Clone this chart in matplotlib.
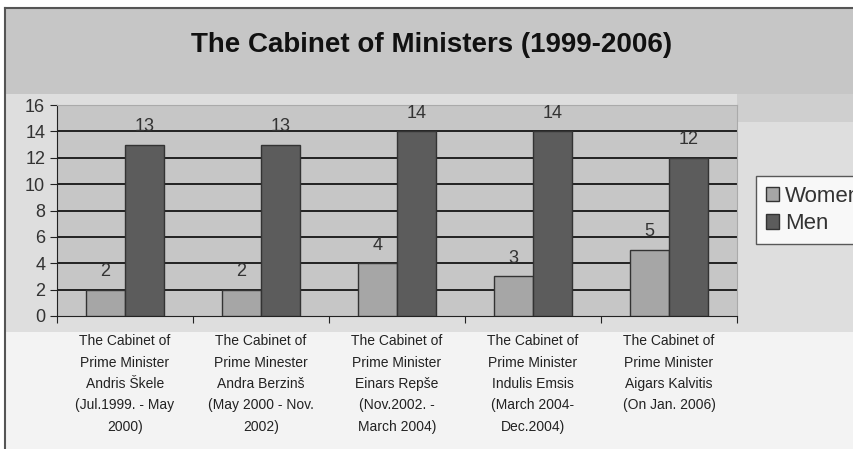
import numpy as np
import matplotlib.pyplot as plt
from matplotlib.patches import Rectangle
from matplotlib.lines import Line2D

plt.rcParams['font.family'] = ['Liberation Sans', 'DejaVu Sans']

# data
cabinets = [
    "The Cabinet of\nPrime Minister\nAndris Škele\n(Jul.1999. - May\n2000)",
    "The Cabinet of\nPrime Minester\nAndra Berzinš\n(May 2000 - Nov.\n2002)",
    "The Cabinet of\nPrime Minister\nEinars Repše\n(Nov.2002. -\nMarch 2004)",
    "The Cabinet of\nPrime Minister\nIndulis Emsis\n(March 2004-\nDec.2004)",
    "The Cabinet of\nPrime Minister\nAigars Kalvitis\n(On Jan. 2006)",
]
women = [2, 2, 4, 3, 5]
men = [13, 13, 14, 14, 12]
yticks = [0, 2, 4, 6, 8, 10, 12, 14, 16]

W, H = 854, 449
fig = plt.figure(figsize=(W / 100, H / 100), dpi=100)
fig.patch.set_facecolor('white')

# background panels of the original screenshot
def frect(x0, y0, x1, y1, color):
    fig.patches.append(Rectangle((x0 / W, 1 - y1 / H), (x1 - x0) / W, (y1 - y0) / H,
                                 transform=fig.transFigure, facecolor=color,
                                 edgecolor='none', zorder=-5))

frect(5, 8, W, H, '#dedede')
frect(5, 8, W, 94, '#c6c6c6')
frect(737, 94, W, 122, '#cfcfcf')
frect(5, 332, W, H, '#f3f3f3')
fig.lines.append(Line2D([5 / W, 5 / W], [0, 1 - 8 / H], transform=fig.transFigure, color='#555555', lw=1.5, zorder=-4))
fig.lines.append(Line2D([5 / W, 1], [1 - 8 / H, 1 - 8 / H], transform=fig.transFigure, color='#555555', lw=1.5, zorder=-4))

fig.text(432 / W, 1 - 45 / H, "The Cabinet of Ministers (1999-2006)", ha='center', va='center',
         fontsize=20, fontweight='bold', color='#111111')

ax = fig.add_axes([57 / W, 1 - 316 / H, 680 / W, 211 / H])
ax.set_facecolor('#c6c6c6')

x = np.arange(len(cabinets))
bw = 0.29
b1 = ax.bar(x - bw / 2, women, bw, color='#a6a6a6', edgecolor='#333333', linewidth=1, zorder=3, label='Women')
b2 = ax.bar(x + bw / 2, men, bw, color='#5c5c5c', edgecolor='#333333', linewidth=1, zorder=3, label='Men')

for bars, vals in [(b1, women), (b2, men)]:
    for rect, v in zip(bars, vals):
        ax.annotate(str(v), (rect.get_x() + rect.get_width() / 2, v), xytext=(0, 7),
                    textcoords='offset points', ha='center', va='bottom', fontsize=13, color='#333333')

ax.set_ylim(0, 16)
ax.set_xlim(-0.5, len(cabinets) - 0.5)
ax.set_yticks(yticks)
for t in yticks[1:-1]:
    ax.axhline(t, color='#222222', lw=1.4, zorder=1)
ax.axhline(16, color='#999999', lw=1.2, zorder=1)

ax.set_xticks(np.arange(len(cabinets) + 1) - 0.5)
ax.set_xticklabels([])
ax.set_xticks(x, minor=True)
ax.set_xticklabels(cabinets, minor=True, fontsize=10, linespacing=1.68, color='#222222')
ax.tick_params(axis='x', which='minor', length=0, pad=13)
ax.tick_params(axis='x', which='major', length=5, direction='out', color='#222222')
ax.tick_params(axis='y', length=5, direction='out', labelsize=13, labelcolor='#333333', color='#222222')

for s in ['top', 'right']:
    ax.spines[s].set_color('#aaaaaa')
ax.spines['left'].set_color('#222222')
ax.spines['bottom'].set_color('#222222')

leg = fig.legend(handles=[b1, b2], loc='center left', bbox_to_anchor=(745 / W, 1 - 210 / H),
                 fontsize=16, frameon=True, fancybox=False, edgecolor='#333333',
                 handlelength=0.6, handleheight=0.6, handletextpad=0.25, borderpad=0.45, labelspacing=0.3)
leg.get_frame().set_linewidth(1)
for t in leg.get_texts():
    t.set_color('#333333')

fig.savefig('out.png', dpi=100)
